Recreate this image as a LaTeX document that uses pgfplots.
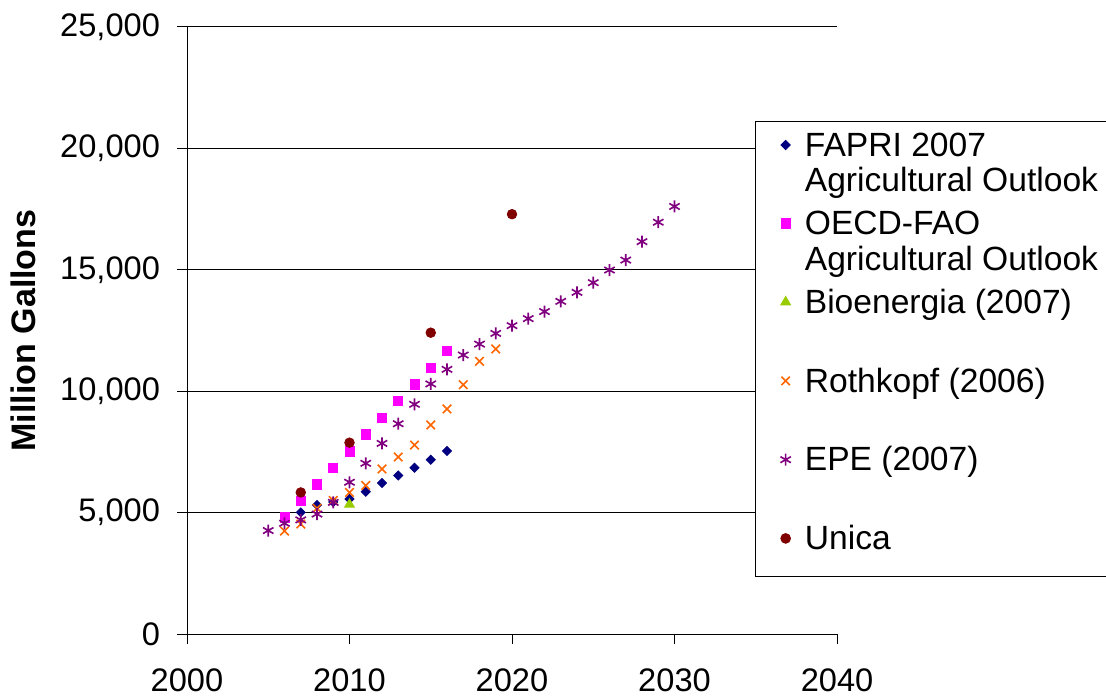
\documentclass[border=0pt]{standalone}
\usepackage{fontspec}
\setmainfont{Liberation Sans}
\usepackage{pgfplots}
\pgfplotsset{compat=1.18}

\definecolor{fapri}{HTML}{000080}
\definecolor{oecd}{HTML}{FF00FF}
\definecolor{bioen}{HTML}{99CC00}
\definecolor{rothk}{HTML}{FF6600}
\definecolor{epe}{HTML}{800080}
\definecolor{unica}{HTML}{800000}

% legend entries: fixed row height, text baseline on the first line
\newcommand{\lgone}[1]{\rule[-27.2pt]{0pt}{39.2pt}#1}
\newcommand{\lglast}[1]{\rule[-8.3pt]{0pt}{20.3pt}#1}
\newcommand{\lgtwo}[2]{\rule[-27.2pt]{0pt}{39.2pt}\vtop{\baselineskip=17.8pt\hbox to 170pt{#1\hfil}\hbox{#2}}}

\pgfplotsset{
  dotlegend/.style={legend image code/.code={\draw[##1] plot coordinates {(0pt,5.6pt)};}},
}

\begin{document}
\begin{tikzpicture}
  \begin{axis}[
    at={(93.5pt,31pt)}, anchor=south west,
    scale only axis,
    width=325pt, height=303.5pt,
    xmin=2000, xmax=2040,
    ymin=0, ymax=25000,
    xtick={2000,2010,2020,2030,2040},
    ytick={0,5000,10000,15000,20000,25000},
    axis x line=bottom, axis y line=left,
    axis line style={-, black, line width=0.5pt},
    tick style={black, line width=0.5pt},
    tick align=outside,
    major tick length=5pt,
    ymajorgrids,
    grid style={black, line width=0.5pt},
    /pgf/number format/assume math mode=true,
    tick label style={font=\fontsize{16.3}{19}\selectfont},
    yticklabel style={/pgf/number format/1000 sep={,}, xshift=-5pt},
    xticklabel style={/pgf/number format/1000 sep={}, yshift=-9pt},
    scaled y ticks=false,
    ylabel={Million Gallons},
    every axis y label/.style={at={(axis description cs:0,0.5)}, xshift=-82pt,
      rotate=90, anchor=center, font=\fontsize{17}{20}\selectfont\bfseries},
    legend style={at={(0.8738,0.8451)}, anchor=north west,
      draw=black, fill=white, line width=0.5pt,
      inner xsep=12.5pt, inner ysep=5.35pt,
      row sep=0pt, column sep=7pt,
      font=\fontsize{16.8}{19}\selectfont,
      cells={anchor=base west},
      nodes={inner sep=0pt, text depth=, text height=}},
    clip=false,
  ]
    \addplot[only marks, color=fapri, mark=square*, mark size=1.6pt,
      mark options={rotate=45}, dotlegend] coordinates {
      (2007,5010) (2008,5310) (2009,5440) (2010,5560) (2011,5860)
      (2012,6220) (2013,6530) (2014,6850) (2015,7180) (2016,7540)
    };
    \addlegendentry{\lgtwo{FAPRI 2007}{Agricultural Outlook}}

    \addplot[only marks, color=oecd, mark=square*, mark size=2.3pt, dotlegend] coordinates {
      (2006,4800) (2007,5480) (2008,6160) (2009,6850) (2010,7520) (2011,8220)
      (2012,8910) (2013,9600) (2014,10280) (2015,10970) (2016,11660)
    };
    \addlegendentry{\lgtwo{OECD-FAO}{Agricultural Outlook}}

    \addplot[only marks, color=bioen, mark=triangle*, mark size=2.8pt, dotlegend] coordinates {
      (2010,5340)
    };
    \addlegendentry{\lgone{Bioenergia (2007)}}

    \addplot[only marks, color=rothk, mark=x, mark size=3pt,
      mark options={line width=0.8pt}, dotlegend] coordinates {
      (2006,4240) (2007,4530) (2008,5180) (2009,5500) (2010,5830) (2011,6120)
      (2012,6800) (2013,7290) (2014,7780) (2015,8610) (2016,9270) (2017,10270)
      (2018,11230) (2019,11740)
    };
    \addlegendentry{\lgone{Rothkopf (2006)}}

    \addplot[only marks, color=epe, mark=asterisk, mark size=3pt,
      mark options={line width=0.8pt}, dotlegend] coordinates {
      (2005,4260) (2006,4560) (2007,4700) (2008,4940) (2009,5420) (2010,6250)
      (2011,7030) (2012,7850) (2013,8660) (2014,9460) (2015,10300) (2016,10900)
      (2017,11490) (2018,11940) (2019,12380) (2020,12700) (2021,12990)
      (2022,13280) (2023,13700) (2024,14070) (2025,14470) (2026,14990)
      (2027,15400) (2028,16160) (2029,16960) (2030,17610)
    };
    \addlegendentry{\lgone{EPE (2007)}}

    \addplot[only marks, color=unica, mark=*, mark size=2.4pt, dotlegend] coordinates {
      (2007,5830) (2010,7880) (2015,12410) (2020,17290)
    };
    \addlegendentry{\lglast{Unica}}
  \end{axis}
  \pgfresetboundingbox
  \useasboundingbox (0,0) rectangle (553pt,348pt);
\end{tikzpicture}
\end{document}
